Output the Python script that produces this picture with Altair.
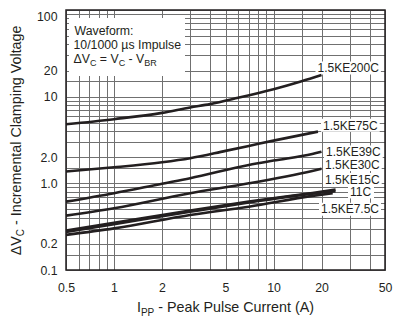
import altair as alt
import pandas as pd

# ---------------- data ----------------
series_names = ["1.5KE200C", "1.5KE75C", "1.5KE39C", "1.5KE30C", "1.5KE15C", "11C", "1.5KE7.5C"]

ipp_200 = [0.5, 1, 2, 3, 4, 6, 10, 15, 20]
dvc_200 = [4.8, 5.5, 6.5, 7.5, 8.2, 9.7, 12.2, 15.1, 17.8]

ipp_75 = [0.5, 1, 2, 3, 5, 7, 10, 19]
dvc_75 = [1.37, 1.53, 1.75, 1.95, 2.37, 2.70, 3.11, 3.95]

ipp_39 = [0.5, 1, 2, 3, 7, 10, 17.5, 20]
dvc_39 = [0.615, 0.77, 0.99, 1.145, 1.63, 1.83, 2.18, 2.32]

ipp_30 = [0.5, 1, 3, 7, 17.5, 20]
dvc_30 = [0.424, 0.516, 0.769, 1.0, 1.39, 1.47]

ipp_15 = [0.5, 1, 3, 7, 17.5, 24.5]
dvc_15 = [0.285, 0.35, 0.485, 0.615, 0.775, 0.85]

ipp_11 = [0.5, 1, 3, 7, 17.5, 24.5]
dvc_11 = [0.275, 0.338, 0.47, 0.60, 0.76, 0.81]

ipp_75c = [0.5, 1, 3, 7, 17.5, 23.5]
dvc_75c = [0.254, 0.302, 0.432, 0.538, 0.716, 0.77]

x_grid = [0.5, 0.6, 0.7, 0.8, 0.9, 1, 2, 3, 4, 5, 6, 7, 8, 9, 10, 15, 20, 30, 40, 50]
x_labels = [0.5, 1, 2, 5, 10, 20, 50]
y_grid = [0.1, 0.15, 0.2, 0.3, 0.4, 0.5, 0.6, 0.7, 0.8, 0.9,
          1, 1.5, 2, 3, 4, 5, 6, 7, 8, 9,
          10, 15, 20, 30, 40, 50, 60, 70, 80, 90, 100]
y_label_values = [100, 20, 10, 2, 1, 0.2, 0.1]
y_label_texts = ["100", "20", "10", "2.0", "1.0", "0.2", "0.1"]

box_lines = ["Waveform:", "10/1000 µs Impulse"]

# ---------------- table ----------------
pairs = [(ipp_200, dvc_200), (ipp_75, dvc_75), (ipp_39, dvc_39), (ipp_30, dvc_30),
         (ipp_15, dvc_15), (ipp_11, dvc_11), (ipp_75c, dvc_75c)]
rows = []
for name, (xs, ys) in zip(series_names, pairs):
    for i, (a, b) in enumerate(zip(xs, ys)):
        rows.append({"series": name, "ipp": a, "dvc": b, "order": i})
df = pd.DataFrame(rows)

# ---------------- layout / style ----------------
LEFT, TOP, W, H = 66, 10, 319, 260
FONT = "Liberation Sans"
TXT = "#231f20"
GRID = "#707070"
FS = 12.3
EM = {' ': .278, '-': .333, '.': .278, '/': .278, ':': .278, '=': .584, '(': .333, ')': .333,
      'A': .667, 'B': .667, 'C': .722, 'E': .667, 'I': .278, 'K': .667, 'P': .667, 'R': .722,
      'V': .667, 'W': .944, 'a': .556, 'c': .5, 'e': .556, 'f': .278, 'g': .556, 'i': .222,
      'k': .5, 'l': .222, 'm': .833, 'n': .556, 'o': .556, 'p': .556, 'r': .333, 's': .5,
      't': .278, 'u': .556, 'µ': .556, 'Δ': .668}


def tw(s, fs):
    return sum(EM.get(ch, .556) for ch in s) * fs


def text_layer(txt, px, py, size, angle=0, align="left", baseline="alphabetic"):
    return alt.Chart(alt.Data(values=[{"t": txt}])).mark_text(
        align=align, baseline=baseline, font=FONT, fontSize=size, color=TXT, angle=angle
    ).encode(text="t:N", x=alt.value(px - LEFT), y=alt.value(py - TOP))


def rect_layer(x1, x2, y1, y2):
    return alt.Chart(alt.Data(values=[{}])).mark_rect(fill="white").encode(
        x=alt.value(x1 - LEFT), x2=alt.value(x2 - LEFT),
        y=alt.value(y1 - TOP), y2=alt.value(y2 - TOP))


def lead(s, fs):
    # width of leading spaces (SVG collapses them, so we shift instead)
    n = len(s) - len(s.lstrip(" "))
    return n * EM[" "] * fs


x_label_expr = ("indexof(" + str(x_labels) + ", datum.value) >= 0 ? format(datum.value, '~g') : ''")
y_label_expr = ""
for v, t in zip(y_label_values, y_label_texts):
    y_label_expr += f"datum.value === {v} ? '{t}' : "
y_label_expr += "''"

lines = alt.Chart(df).mark_line(strokeWidth=2.6, interpolate="monotone", color=TXT).encode(
    x=alt.X("ipp:Q", scale=alt.Scale(type="log", domain=[0.5, 50], nice=False),
            axis=alt.Axis(values=x_grid, labelExpr=x_label_expr, grid=True, gridColor=GRID,
                          gridWidth=1, ticks=False, domain=False, labelFont=FONT,
                          labelFontSize=FS, labelColor=TXT, labelPadding=11,
                          labelFlush=False, labelOverlap=False, title=None)),
    y=alt.Y("dvc:Q", scale=alt.Scale(type="log", domain=[0.1, 100], nice=False),
            axis=alt.Axis(values=y_grid, labelExpr=y_label_expr, grid=True, gridColor=GRID,
                          gridWidth=1, ticks=False, domain=False, labelFont=FONT,
                          labelFontSize=FS, labelColor=TXT, labelPadding=9,
                          labelFlush=False, labelOverlap=False, title=None,
                          labelBaseline={"condition": {"test": "datum.value === 100", "value": "top"},
                                         "value": "middle"})),
    detail="series:N",
    order="order:Q",
)

layers = []

# white box behind the waveform note
layers.append(rect_layer(69, 185, 18, 76))

# curve labels with white backgrounds
LFS = 12.0
label_pos = {"1.5KE200C": (317.5, 68), "1.5KE75C": (323, 125.3), "1.5KE39C": (326, 151.9),
             "1.5KE30C": (325, 164.6), "1.5KE15C": (325, 179.4), "11C": (350, 191.9),
             "1.5KE7.5C": (321, 209.2)}
label_layers = []
for name in series_names:
    lx, cy = label_pos[name]
    w = tw(name, LFS)
    layers.append(rect_layer(lx - 2, min(lx + w + 2, 383.5), cy - 6.5, cy + 6.5))
    label_layers.append(text_layer(name, lx, cy + 0.358 * LFS, LFS))

layers.append(lines)
layers.extend(label_layers)

# waveform note
layers.append(text_layer(box_lines[0], 74.5, 35, FS))
layers.append(text_layer(box_lines[1], 73.5, 48.5, FS))
SUB = 9
pieces = [("ΔV", False), ("C", True), (" = V", False), ("C", True), (" - V", False), ("BR", True)]
cx = 73.5
for s, sub in pieces:
    fs = SUB if sub else FS
    layers.append(text_layer(s.lstrip(" "), cx + lead(s, fs), 65.5 if sub else 62.5, fs))
    cx += tw(s, fs)

# x axis title: I_PP - Peak Pulse Current (A)
TF, TSUB = 14.3, 10
xt = [("I", False), ("PP", True), (" - Peak Pulse Current (A)", False)]
total = sum(tw(s, TSUB if sub else TF) for s, sub in xt)
cx = LEFT + W / 2 - total / 2
for s, sub in xt:
    fs = TSUB if sub else TF
    layers.append(text_layer(s.lstrip(" "), cx + lead(s, fs), 315.7 if sub else 311.7, fs))
    cx += tw(s, fs)

# y axis title: ΔV_C - Incremental Clamping Voltage (rotated)
yt = [("ΔV", False), ("C", True), (" - Incremental Clamping Voltage", False)]
total = sum(tw(s, TSUB if sub else TF) for s, sub in yt)
cy = TOP + H / 2 + total / 2
for s, sub in yt:
    fs = TSUB if sub else TF
    layers.append(text_layer(s.lstrip(" "), 23.5 if sub else 20.5, cy - lead(s, fs), fs, angle=270))
    cy -= tw(s, fs)

# plot border
layers.append(alt.Chart(alt.Data(values=[{}])).mark_rect(
    fill="white", fillOpacity=0, stroke=TXT, strokeWidth=1.5).encode(
    x=alt.value(0), x2=alt.value(W), y=alt.value(0), y2=alt.value(H)))

chart = alt.layer(*layers).properties(
    width=W, height=H,
    autosize=alt.AutoSizeParams(type="none"),
    padding={"left": LEFT, "top": TOP, "right": 400 - LEFT - W, "bottom": 319 - TOP - H},
    background="white",
).configure_view(strokeWidth=0)

chart.save("out.html", embed_options={"renderer": "svg", "actions": False})
